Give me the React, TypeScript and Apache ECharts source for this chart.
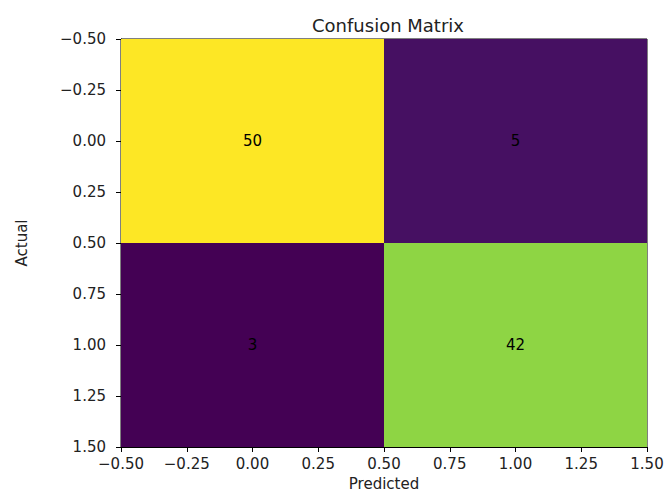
import React, { useEffect, useRef } from "react";
import * as echarts from "echarts";

const predictedIdx = [0, 1];
const actualIdx = [0, 1];
// [predicted, actual, count]
const cells: [number, number, number][] = [
  [0, 0, 50],
  [1, 0, 5],
  [0, 1, 3],
  [1, 1, 42],
];
const viridis = ["#440154", "#482475", "#414487", "#355f8d", "#2a788e", "#21918c", "#22a884", "#44bf70", "#7ad151", "#bddf26", "#fde725"];

const fmt = (v: number) => (v < 0 ? "\u2212" : "") + Math.abs(v).toFixed(2);

export default function App() {
  const ref = useRef<HTMLDivElement>(null);
  useEffect(() => {
    if (!ref.current) return;
    const chart = echarts.init(ref.current, undefined, { renderer: "svg" });
    const font = "DejaVu Sans";
    const counts = cells.map((c) => c[2]);
    const axisCommon = {
      type: "value" as const,
      min: -0.5,
      max: 1.5,
      interval: 0.25,
      splitLine: { show: false },
      axisLine: { show: true, onZero: false, lineStyle: { color: "#000", width: 1 } },
      axisTick: { show: true, length: 5, lineStyle: { color: "#000" } },
      axisLabel: { color: "#222", fontFamily: font, fontSize: 15, formatter: fmt },
      nameTextStyle: { color: "#222", fontFamily: font, fontSize: 15 },
    };
    chart.setOption({
      animation: false,
      backgroundColor: "#fff",
      title: {
        text: "Confusion Matrix",
        left: 383,
        textAlign: "center",
        top: 11,
        textStyle: { fontFamily: font, fontSize: 18, fontWeight: "normal", color: "#222" },
      },
      grid: {
        left: 121,
        right: 20,
        top: 39,
        bottom: 46,
        outerBoundsMode: "none",
        containLabel: false,
        show: true,
        borderColor: "#000",
        borderWidth: 1,
        backgroundColor: "transparent",
      },
      visualMap: {
        show: false,
        min: Math.min(...counts),
        max: Math.max(...counts),
        dimension: 2,
        inRange: { color: viridis },
      },
      xAxis: {
        ...axisCommon,
        name: "Predicted",
        nameLocation: "middle",
        nameGap: 29,
        axisLabel: { ...axisCommon.axisLabel, margin: 9 },
      },
      yAxis: {
        ...axisCommon,
        inverse: true,
        name: "Actual",
        nameLocation: "middle",
        nameGap: 92,
        nameRotate: 90,
        axisLabel: { ...axisCommon.axisLabel, margin: 15 },
      },
      series: [
        {
          type: "custom",
          data: cells,
          encode: { x: 0, y: 1 },
          renderItem: (params: any, api: any) => {
            const x = api.value(0);
            const y = api.value(1);
            const p0 = api.coord([x - 0.5, y - 0.5]);
            const p1 = api.coord([x + 0.5, y + 0.5]);
            const c = api.coord([x, y]);
            return {
              type: "group",
              children: [
                {
                  type: "rect",
                  shape: { x: Math.min(p0[0], p1[0]), y: Math.min(p0[1], p1[1]), width: Math.abs(p1[0] - p0[0]), height: Math.abs(p1[1] - p0[1]) },
                  style: { fill: api.visual("color") },
                },
                {
                  type: "text",
                  x: c[0],
                  y: c[1],
                  style: { text: String(api.value(2)), fill: "#000", font: `15px ${font}`, align: "center", verticalAlign: "middle" },
                },
              ],
            };
          },
        },
      ],
    });
    return () => chart.dispose();
  }, []);
  void predictedIdx;
  void actualIdx;
  return <div ref={ref} style={{ width: 667, height: 493, position: "absolute", left: 0, top: 0 }} />;
}
